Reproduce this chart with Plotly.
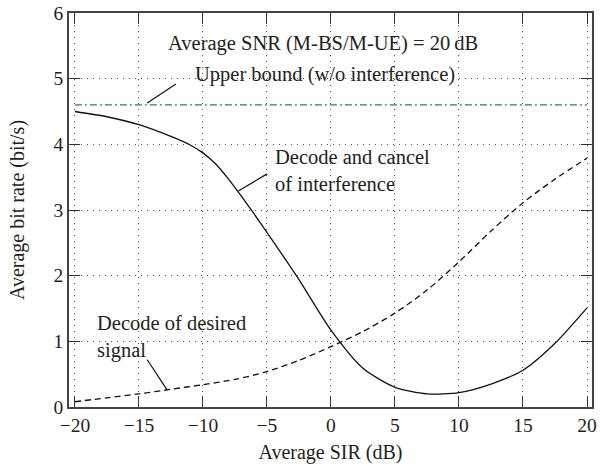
import plotly.graph_objects as go

sir_db = [-20, -17.5, -15, -12.5, -11, -10, -9, -8, -7, -6, -5, -2.5, 0, 2.5, 5, 7.5, 10, 12.5, 15, 17.5, 20]
cancel_rate = [4.50, 4.42, 4.30, 4.12, 3.99, 3.87, 3.70, 3.47, 3.21, 2.94, 2.66, 1.94, 1.17, 0.59, 0.30, 0.20, 0.22, 0.35, 0.56, 0.97, 1.51]
desired_x = [-20, -17.5, -15, -12.5, -10, -7.5, -5, -2.5, 0, 2.5, 5, 7.5, 10, 12.5, 15, 17.5, 20]
desired_rate = [0.08, 0.14, 0.20, 0.27, 0.34, 0.42, 0.54, 0.71, 0.92, 1.15, 1.43, 1.78, 2.21, 2.68, 3.11, 3.47, 3.79]
upper_x = [-20, 20]
upper_rate = [4.6, 4.6]
x_ticks = [-20, -15, -10, -5, 0, 5, 10, 15, 20]
x_tick_labels = ["\u221220", "\u221215", "\u221210", "\u22125", "0", "5", "10", "15", "20"]
y_ticks = [0, 1, 2, 3, 4, 5, 6]

FONT = "Liberation Serif"
TXT = "#231f20"
FS = 20.5

fig = go.Figure()
fig.add_trace(go.Scatter(x=upper_x, y=upper_rate, mode="lines",
                         line=dict(color="#2f7d57", width=1.3, dash="7px,3px,2px,3px")))
fig.add_trace(go.Scatter(x=sir_db, y=cancel_rate, mode="lines",
                         line=dict(color="#111", width=1.3, shape="spline", smoothing=0.7)))
fig.add_trace(go.Scatter(x=desired_x, y=desired_rate, mode="lines",
                         line=dict(color="#111", width=1.3, dash="6px,4px", shape="spline", smoothing=0.8)))

axis_common = dict(
    showline=True, linecolor="#444", linewidth=1.5, mirror="allticks",
    ticks="inside", ticklen=11, tickcolor="#333", tickwidth=1.3,
    showgrid=True, gridcolor="#555", gridwidth=1, griddash="1px,5px",
    zeroline=False, tickfont=dict(family=FONT, size=19.5, color=TXT),
)
fig.update_xaxes(range=[-20.46, 20.39], tickvals=x_ticks, ticktext=x_tick_labels,
                 title=dict(text="Average SIR (dB)", font=dict(family=FONT, size=20, color=TXT), standoff=10),
                 **axis_common)
fig.update_yaxes(range=[0, 6], tickvals=y_ticks,
                 title=dict(text="Average bit rate (bit/s)", font=dict(family=FONT, size=20, color=TXT), standoff=24),
                 **axis_common)

ann_font = dict(family=FONT, size=FS, color=TXT)
annotations = [
    dict(x=-0.66, y=5.53, text="Average SNR (M-BS/M-UE) = 20\u2009dB", xanchor="center", yanchor="middle"),
    dict(x=-0.5, y=5.06, text="Upper bound (w/o interference)", xanchor="center", yanchor="middle"),
    dict(x=-4.53, y=3.6, text="Decode and cancel<br>of interference", xanchor="left", yanchor="middle", align="left"),
    dict(x=-18.45, y=1.06, text="Decode of desired<br>signal", xanchor="left", yanchor="middle", align="left"),
]
for a in annotations:
    a.update(xref="x", yref="y", showarrow=False, font=ann_font)
fig.update_layout(annotations=annotations)

leaders = [
    (-14.35, 4.63, -12.11, 4.92),
    (-7.23, 3.29, -4.99, 3.55),
    (-14.35, 0.72, -12.8, 0.26),
]
for x0, y0, x1, y1 in leaders:
    fig.add_shape(type="line", xref="x", yref="y", x0=x0, y0=y0, x1=x1, y1=y1,
                  line=dict(color="#111", width=1.2))

fig.update_layout(
    width=600, height=469,
    margin=dict(l=69, r=3, t=13, b=62),
    paper_bgcolor="white", plot_bgcolor="white",
    showlegend=False,
    font=dict(family=FONT, color=TXT),
)
fig.write_html("out.html")
